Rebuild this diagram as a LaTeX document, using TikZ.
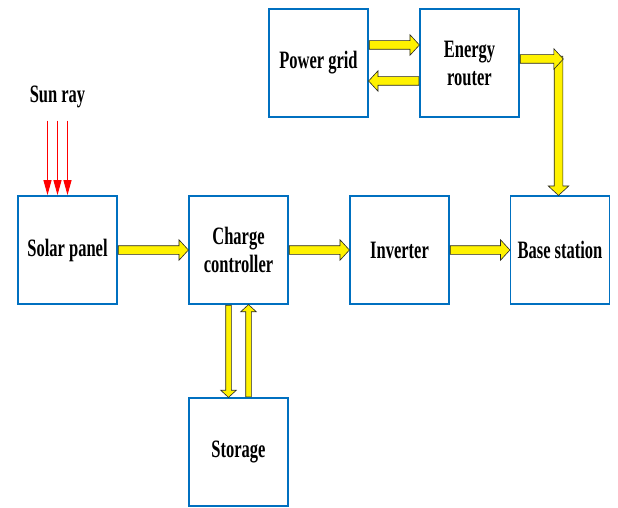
\documentclass[tikz,border=0pt]{standalone}
\usepackage{fontspec}
\setmainfont[FakeStretch=0.66]{Liberation Serif}
\usetikzlibrary{arrows.meta,shapes.arrows,calc}
\definecolor{boxblue}{RGB}{0,112,192}
\definecolor{rayred}{RGB}{255,0,0}

% yellow block arrow laid from #2 to #3
\newcommand{\yflow}[3][yarr]{%
  \path let \p1=#2, \p2=#3, \n1={veclen(\x2-\x1,\y2-\y1)} in
    (\p1) -- (\p2) node[#1,pos=0,anchor=tail,sloped,allow upside down,
                        minimum height=\n1] {};}

\begin{document}
\begin{tikzpicture}[
    x=1pt, y=1pt,
    font=\bfseries\fontsize{25}{28}\selectfont,
    blk/.style={rectangle,draw=boxblue,line width=1.8pt,fill=white,
                minimum width=99pt,minimum height=108pt,align=center},
    yarr/.style={single arrow,draw=black!85,fill=yellow,line width=0.6pt,
                 inner xsep=0pt,inner ysep=4pt,single arrow head extend=6pt,
                 single arrow tip angle=95},
    yarrs/.style={yarr,inner ysep=2.5pt,single arrow head extend=5pt},
    ray/.style={draw=rayred,line width=1pt,-{Triangle[length=15pt,width=8pt]}}]

  \useasboundingbox (0,0) rectangle (618,-508);

  % ---------------- boxes
  \node[blk] (sp)  at ( 67.5,-250) {Solar panel};
  \node[blk] (cc)  at (238.5,-250) {Charge\\controller};
  \node[blk] (inv) at (399.5,-250) {Inverter};
  \node[blk] (bs)  at (560.0,-250) {Base station};
  \node[blk] (pg)  at (318.5, -63) {Power grid};
  \node[blk] (er)  at (469.5, -63) {Energy\\router};
  \node[blk] (st)  at (238.5,-452) {Storage};

  % ---------------- sun
  \node (sun) at (57.5,-97) {Sun ray};
  \foreach \d in {-10,0,10}
    \draw[ray] ([xshift=\d pt,yshift=-9pt]sun.south) -- ([xshift=\d pt]sun.south |- sp.north);

  % ---------------- main line
  \yflow{(sp.east)}{(cc.west)}
  \yflow{(cc.east)}{(inv.west)}
  \yflow{(inv.east)}{(bs.west)}

  % ---------------- storage
  \yflow[yarrs]{([xshift=-10pt]cc.south)}{([xshift=-10pt]st.north)}
  \yflow[yarrs]{([xshift=10pt]st.north)}{([xshift=10pt]cc.south)}

  % ---------------- grid and router
  \yflow{([yshift=18pt]pg.east)}{([yshift=18pt]er.west)}
  \yflow{([yshift=-18pt]er.west)}{([yshift=-18pt]pg.east)}

  \coordinate (bend) at (er.east -| bs.north);
  \yflow{([xshift=-1.5pt,yshift=7pt]bend)}{([xshift=-1.5pt]bs.north)}
  \yflow{([yshift=4pt]er.east)}{([xshift=3pt,yshift=4pt]bend)}
\end{tikzpicture}
\end{document}
